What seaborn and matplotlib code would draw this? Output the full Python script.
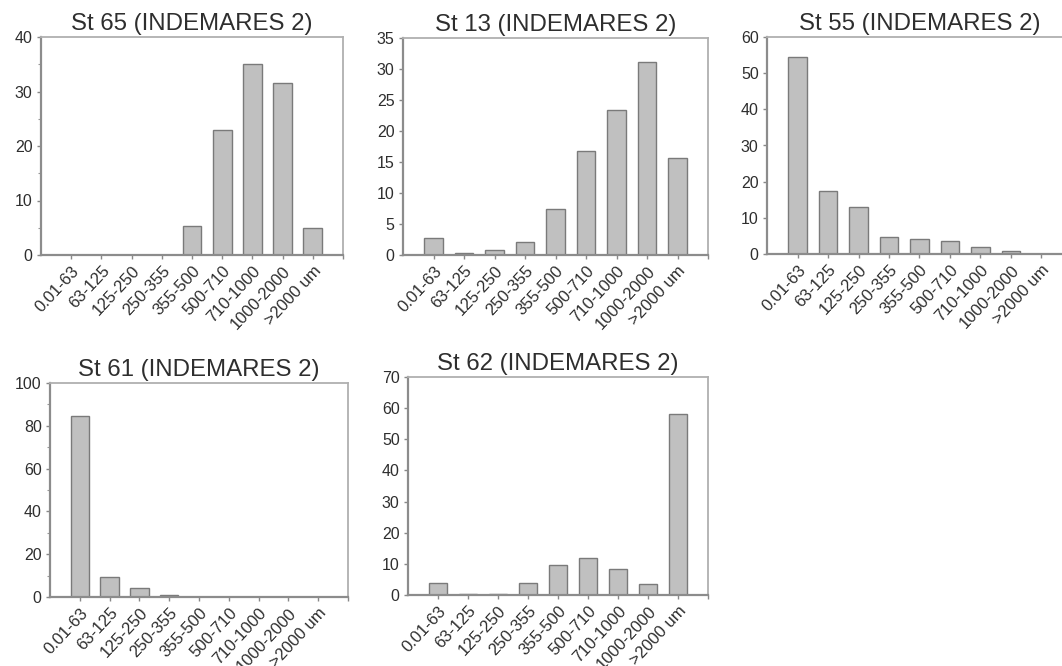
import matplotlib
matplotlib.use("Agg")
import matplotlib.pyplot as plt
import seaborn as sns
import pandas as pd
from matplotlib.ticker import MultipleLocator

sns.set_style("white")
plt.rcParams['font.family'] = ['Liberation Sans', 'DejaVu Sans']

categories = ["0.01-63", "63-125", "125-250", "250-355", "355-500",
              "500-710", "710-1000", "1000-2000", ">2000 um"]

st65 = [0, 0, 0, 0, 5.3, 23.0, 35.0, 31.5, 4.9]
st13 = [2.7, 0.4, 0.75, 2.15, 7.4, 16.85, 23.4, 31.1, 15.7]
st55 = [54.4, 17.3, 12.9, 4.7, 4.15, 3.5, 1.9, 0.8, 0]
st61 = [84.7, 9.4, 4.4, 0.9, 0, 0, 0, 0, 0]
st62 = [4.0, 0.3, 0.3, 4.0, 9.5, 11.9, 8.2, 3.6, 58.1]

titles = ["St 65 (INDEMARES 2)", "St 13 (INDEMARES 2)", "St 55 (INDEMARES 2)",
          "St 61 (INDEMARES 2)", "St 62 (INDEMARES 2)"]
series = [st65, st13, st55, st61, st62]
ymax = [40, 35, 60, 100, 70]
ystep = [10, 5, 10, 20, 10]
yminor = [5, None, None, 10, None]

W, H = 1062, 666
# pixel boxes: left, right, top, bottom
boxes = [(41, 343, 37, 255), (403, 708, 38, 255), (767, 1072, 37, 254),
         (50, 348, 383, 597), (408, 708, 377, 595)]

fig = plt.figure(figsize=(W / 100, H / 100), dpi=100)
text_col = "#2e2e2e"

for (l, r, t, b), vals, title, ym, ys, ymn in zip(boxes, series, titles, ymax, ystep, yminor):
    ax = fig.add_axes([l / W, (H - b) / H, (r - l) / W, (b - t) / H])
    df = pd.DataFrame({"size": categories, "pct": vals})
    sns.barplot(data=df, x="size", y="pct", ax=ax, color="#c0c0c0",
                width=0.62, edgecolor="#7a7a7a", linewidth=1.0, saturation=1)
    ax.set_xlim(-1, 9)
    ax.set_ylim(0, ym)
    ax.set_xticks(range(10))
    ax.set_xticklabels(categories + [""], rotation=47, ha="right",
                       rotation_mode="anchor", fontsize=12, color=text_col)
    ax.yaxis.set_major_locator(MultipleLocator(ys))
    if ymn:
        ax.yaxis.set_minor_locator(MultipleLocator(ymn))
    ax.tick_params(axis="y", which="major", length=3, width=1, color="#888888",
                   labelsize=11.5, labelcolor=text_col, pad=3, left=True)
    ax.tick_params(axis="y", which="minor", length=2, width=0.8, color="#999999", left=True)
    ax.tick_params(axis="x", length=3, width=1, color="#888888", pad=3, bottom=True)
    ax.set_xlabel("")
    ax.set_ylabel("")
    ax.set_title(title, fontsize=17.3, color=text_col, pad=5)
    for side in ["left", "bottom"]:
        ax.spines[side].set_color("#8c8c8c")
        ax.spines[side].set_linewidth(1.6)
    for side in ["top", "right"]:
        ax.spines[side].set_color("#b0b0b0")
        ax.spines[side].set_linewidth(1.3)
        ax.spines[side].set_visible(True)

fig.savefig("out.png", dpi=100)
